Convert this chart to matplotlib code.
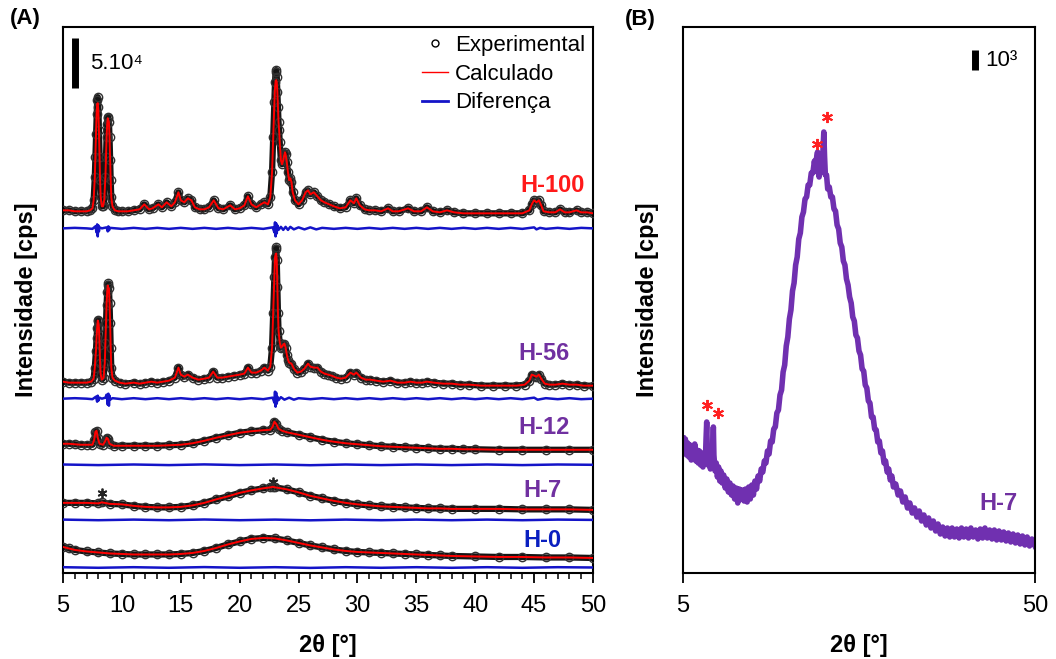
import numpy as np
import matplotlib
matplotlib.use('Agg')
import matplotlib.pyplot as plt
from matplotlib.lines import Line2D
from matplotlib.ticker import MultipleLocator

plt.rcParams['font.family'] = ['Liberation Sans', 'DejaVu Sans']

# ---------------- Panel A data (intensity in 10^3 cps) ----------------
h100_x = [5.0, 5.5, 6.0, 6.5, 7.0, 7.3, 7.5, 7.6, 7.7, 7.75, 7.8, 7.85, 7.9, 7.95, 8.0, 8.05, 8.1, 8.15, 8.2, 8.3,
          8.4, 8.5, 8.6, 8.65, 8.7, 8.75, 8.8, 8.85, 8.9, 8.95, 9.0, 9.05, 9.1, 9.2, 9.4, 9.7, 10.0, 10.5, 11.0, 11.5,
          11.9, 12.3, 12.6, 13.1, 13.4, 13.8, 14.2, 14.5, 14.8, 15.0, 15.3, 15.6, 15.9, 16.2, 16.6, 17.0, 17.4, 17.8,
          18.2, 18.6, 19.2, 19.6, 20.0, 20.4, 20.7, 21.0, 21.4, 21.8, 22.1, 22.4, 22.6, 22.75, 22.85, 22.95, 23.0,
          23.05, 23.1, 23.15, 23.2, 23.25, 23.3, 23.35, 23.4, 23.5, 23.6, 23.7, 23.8, 23.85, 23.9, 24.0, 24.1, 24.2,
          24.3, 24.4, 24.5, 24.7, 25.0, 25.3, 25.6, 25.8, 26.0, 26.3, 26.6, 26.9, 27.2, 27.6, 28.0, 28.5, 29.0, 29.4,
          29.7, 29.9, 30.2, 30.6, 31.0, 31.5, 32.0, 32.6, 33.0, 33.5, 34.3, 34.8, 35.4, 35.9, 36.4, 37.0, 37.6, 38.2,
          39.0, 40.0, 41.0, 42.0, 43.0, 44.0, 44.6, 44.8, 45.0, 45.2, 45.4, 45.6, 45.8, 46.3, 46.8, 47.2, 47.6, 48.0,
          48.6, 49.0, 49.5, 50.0]
h100_y = [12, 12, 11, 11, 11, 12, 14, 22, 45, 65, 88, 108, 122, 125, 115, 92, 65, 42, 25, 16,
          16, 22, 45, 65, 85, 98, 104, 105, 100, 85, 62, 42, 25, 16, 12, 11, 11, 11, 12, 13,
          18, 13, 14, 18, 15, 20, 16, 20, 30, 22, 20, 24, 22, 15, 13, 13, 15, 22,
          14, 13, 17, 13, 14, 17, 26, 18, 15, 18, 20, 18, 25, 50, 85, 120, 140,
          150, 152, 145, 130, 115, 100, 92, 80, 62, 58, 62, 68, 70, 68, 60, 50, 42,
          44, 40, 30, 22, 18, 22, 30, 32, 28, 30, 26, 22, 20, 18, 16, 14, 15, 22,
          19, 24, 17, 13, 12, 12, 11, 14, 11, 11, 14, 11, 11, 15, 11, 10, 12, 10,
          9, 9, 9, 9, 9, 9, 12, 18, 22, 20, 22, 17, 11, 10, 10, 13, 10, 10,
          12, 10, 10, 9]
h100_calc_fix = {7.9: 118, 7.95: 119, 8.0: 112, 8.85: 102, 23.0: 134, 23.05: 141, 23.1: 142, 23.15: 140}
h100_dx = [5, 6, 7, 7.5, 7.75, 7.85, 7.9, 7.95, 8.0, 8.05, 8.1, 8.3, 8.7, 8.8, 8.85, 8.9, 9.0, 9.5, 10, 11, 12,
           13, 14, 15, 16, 17, 18, 19, 20, 21, 22, 22.8, 22.95, 23.0, 23.05, 23.1, 23.15, 23.2, 23.3, 23.5, 23.7,
           23.9, 24.1, 24.3, 24.6, 25, 25.5, 26, 26.5, 27, 28, 29, 30, 31, 32, 33, 34, 35, 36, 37, 38, 39, 40, 41,
           42, 43, 44, 45, 45.2, 45.5, 46, 47, 48, 49, 50]
h100_dy = [0, 0.5, 0, -0.5, 2, -4, 4, -8, 3, -3, 1, 0, 1, -3, 2, -2, 0.5, 0, -0.5, 0.5, -0.5,
           0.5, -0.5, 0.5, -0.5, 0.5, -0.5, 0.5, -0.5, 0.5, -0.5, 1, -4, 6, -8, 5, -5, 3, -1.5, 1.5, -1.5,
           1.5, -1.5, 1.5, -1, 1, -1, 1, -1, 0.5, -0.5, 0.5, -0.5, 0.5, -0.5, 0.5, -0.5, 0.5, -0.5, 0.5, -0.5, 0.5,
           -0.5, 0.5, -0.5, 0.5, -0.5, 1, -1, 0.5, -0.5, 0.5, -0.5, 0.5, 0]

h56_x = [5.0, 5.5, 6.0, 6.5, 7.0, 7.4, 7.6, 7.7, 7.8, 7.85, 7.9, 7.95, 8.0, 8.05, 8.1, 8.15, 8.2, 8.3, 8.45, 8.55,
         8.6, 8.65, 8.7, 8.75, 8.8, 8.85, 8.9, 8.95, 9.0, 9.05, 9.1, 9.2, 9.4, 9.8, 10.3, 11.0, 11.5, 12.0, 12.5,
         13.0, 13.5, 14.0, 14.5, 14.8, 15.0, 15.3, 15.6, 16.0, 16.5, 17.0, 17.4, 17.75, 18.1, 18.5, 19.0, 19.5,
         20.0, 20.4, 20.7, 21.0, 21.4, 21.8, 22.1, 22.4, 22.6, 22.75, 22.85, 22.95, 23.0, 23.05, 23.1, 23.15, 23.2,
         23.25, 23.3, 23.4, 23.5, 23.6, 23.7, 23.8, 23.9, 24.0, 24.1, 24.2, 24.4, 24.6, 24.9, 25.2, 25.5, 25.8,
         26.0, 26.3, 26.6, 26.9, 27.2, 27.5, 27.8, 28.2, 28.6, 29.0, 29.4, 29.7, 29.9, 30.3, 30.7, 31.1, 31.6,
         32.2, 32.8, 33.4, 34.0, 34.5, 35.0, 35.5, 35.9, 36.5, 37.3, 38.0, 38.7, 39.5, 40.5, 41.5, 42.5, 43.5,
         44.2, 44.6, 44.8, 45.0, 45.2, 45.4, 45.6, 45.9, 46.3, 46.8, 47.4, 48.0, 48.6, 49.2, 50.0]
h56_y = [11, 10, 10, 10, 10, 11, 14, 25, 42, 55, 65, 72, 73, 65, 48, 30, 18, 13, 15, 30,
         50, 70, 88, 100, 107, 109, 104, 90, 70, 45, 25, 15, 12, 10, 9, 10, 9, 10, 11,
         10, 11, 12, 15, 25, 18, 16, 18, 15, 13, 14, 15, 21, 15, 15, 16, 17,
         18, 19, 25, 20, 20, 22, 25, 22, 26, 45, 80, 115, 135, 143, 145, 132, 105,
         80, 62, 50, 45, 46, 48, 49, 45, 38, 33, 30, 29, 24, 20, 21, 24, 29,
         26, 25, 25, 21, 19, 18, 17, 15, 14, 15, 20, 18, 20, 15, 13, 13, 12,
         11, 12, 10, 10, 11, 10, 10, 11, 10, 9, 9, 8, 8, 7, 7, 7, 7,
         8, 12, 18, 17, 16, 18, 14, 9, 8, 8, 9, 8, 8, 7, 7]
h56_calc_fix = {8.0: 70, 8.85: 104, 23.05: 138, 23.1: 139}
h56_dx = [5, 6, 7, 7.5, 7.8, 7.9, 7.95, 8.0, 8.1, 8.3, 8.6, 8.7, 8.8, 8.85, 8.9, 8.95, 9.0, 9.2, 9.6, 10, 11, 12,
          13, 14, 15, 16, 17, 18, 19, 20, 21, 22, 22.8, 22.95, 23.0, 23.05, 23.1, 23.15, 23.2, 23.3, 23.5, 23.8,
          24.2, 24.6, 25, 26, 27, 28, 29, 30, 31, 32, 33, 34, 35, 36, 37, 38, 39, 40, 41, 42, 43, 44, 45, 45.3,
          46, 47, 48, 49, 50]
h56_dy = [0, 0.5, 0, -0.5, 2, -3, 3, -2, 1, 0, 1, 4, -6, 5, -7, 3, -1, 0.5, 0, -0.5, 0.5, -0.5,
          0.5, -0.5, 0.5, -0.5, 0.5, -0.5, 0.5, -0.5, 0.5, -0.5, 1, -4, 7, -8, 6, -5, 2, -1.5, 1.5, -1,
          1, -1, 0.5, -0.5, 0.5, -0.5, 0.5, -0.5, 0.5, -0.5, 0.5, -0.5, 0.5, -0.5, 0.5, -0.5, 0.5, -0.5, 0.5,
          -0.5, 0.5, -0.5, 1, -1, 0.5, -0.5, 0.5, -0.5, 0]

h12_x = [5.0, 5.5, 6.0, 6.5, 7.0, 7.5, 7.65, 7.75, 7.85, 7.95, 8.1, 8.4, 8.6, 8.7, 8.8, 8.95, 9.3, 10, 11, 12, 13,
         14, 15, 16, 17, 18, 19, 20, 21, 22, 22.6, 22.8, 22.95, 23.1, 23.3, 23.6, 24, 25, 26, 27, 28, 29, 30, 31,
         32, 33, 34, 35, 36, 37, 38, 39, 40, 42, 44, 46, 48, 50]
h12_y = [14, 14, 13.5, 13, 13, 13, 18, 26, 27, 20, 14, 13, 17, 20, 19, 14, 12, 12, 12, 12, 12,
         12.5, 13, 14.5, 17, 20, 22.5, 25, 26.5, 27.5, 28, 31, 36, 34, 29, 27, 25.5, 23, 20.5, 18, 16, 14.5, 13.5,
         12.5, 11.5, 11, 10.5, 10, 9.5, 9, 9, 8.5, 8.5, 8, 8, 8, 8, 8]

h7_x = [5.0, 6, 7, 8, 8.3, 9, 10, 11, 12, 13, 14, 15, 16, 17, 18, 19, 20, 21, 22, 22.6, 22.8, 23, 24, 25, 26, 27,
        28, 29, 30, 31, 32, 33, 34, 35, 36, 37, 38, 40, 42, 44, 46, 48, 50]
h7_y = [15, 15, 15, 14.5, 15.5, 14, 13.5, 12, 11, 10.5, 10.5, 11, 12.5, 15, 18.5, 21.5, 25, 27.5, 29.5, 30.5, 31,
        30.5, 28.5, 25.5, 22, 19.5, 17, 15, 13.5, 12.5, 11.5, 11, 10.5, 10, 9.5, 9.5, 9, 9, 9, 8.5, 8.5, 8.5, 8]

h0_x = [5.0, 5.5, 6, 7, 8, 9, 10, 11, 12, 13, 14, 15, 16, 17, 18, 19, 20, 21, 22, 23, 24, 25, 26, 27, 28, 29, 30,
        31, 32, 33, 34, 35, 36, 37, 38, 40, 42, 44, 46, 48, 50]
h0_y = [16, 14.5, 13, 11.5, 10.5, 9.5, 9, 8.5, 8.5, 8.5, 8.5, 9, 10, 12, 15, 18.5, 21.5, 24, 25, 24.5, 22.5, 20,
        17.5, 15.5, 13.5, 12, 11, 10.5, 10, 9.5, 9, 8.5, 8, 7.5, 7, 6.5, 6, 6, 5.5, 5.5, 5]

flat_dx = [5, 8, 11, 14, 17, 20, 23, 26, 29, 32, 35, 38, 41, 44, 47, 50]
flat_dy = [0.3, -0.3, 0.3, -0.3, 0.4, -0.3, 0.3, -0.4, 0.3, -0.3, 0.3, -0.3, 0.3, -0.3, 0.3, 0]

samples = ['H-100', 'H-56', 'H-12', 'H-7', 'H-0']
pattern_offsets = [350, 180, 115, 55, 10]
diff_offsets = [344, 174, 108, 53, 5.5]
label_colors = ['#ff1a1a', '#7030a0', '#7030a0', '#7030a0', '#0a1fc0']
label_y = [387, 219, 145, 82, 32]
label_x = [49.3, 48.0, 48.0, 47.3, 47.3]
star_x_A = [8.3, 22.8]
star_y_A = [80, 91]

# ---------------- Panel B data (H-7, intensity in units of 50 cps) ----------------
b_x = [5.0, 5.15, 5.3, 5.45, 5.6, 5.75, 5.9, 6.05, 6.2, 6.35, 6.5, 6.65, 6.8, 6.95, 7.1, 7.25, 7.4, 7.55, 7.7,
       7.85, 7.95, 8.03, 8.1, 8.2, 8.35, 8.5, 8.65, 8.8, 8.88, 8.95, 9.1, 9.25, 9.4, 9.55, 9.7, 9.85, 10.0, 10.2,
       10.4, 10.6, 10.8, 11.0, 11.2, 11.4, 11.6, 11.8, 12.0, 12.2, 12.4, 12.6, 12.8, 13.0, 13.2, 13.4, 13.6,
       13.8, 14.0, 14.2, 14.4, 14.6, 14.8, 15.0, 15.2, 15.4, 15.6, 15.8, 16.0, 16.2, 16.4, 16.6, 16.8, 17.0,
       17.2, 17.4, 17.6, 17.8, 18.0, 18.2, 18.4, 18.6, 18.8, 19.0, 19.2, 19.4, 19.6, 19.8, 20.0, 20.2, 20.4,
       20.6, 20.8, 21.0, 21.2, 21.4, 21.6, 21.8, 21.95, 22.05, 22.2, 22.3, 22.4, 22.5, 22.6, 22.7, 22.8, 22.9,
       23.0, 23.1, 23.2, 23.35, 23.5, 23.7, 23.9, 24.1, 24.3, 24.5, 24.7, 24.9, 25.1, 25.3, 25.5, 25.7, 25.9,
       26.1, 26.3, 26.5, 26.7, 26.9, 27.1, 27.3, 27.5, 27.7, 27.9, 28.1, 28.3, 28.5, 28.7, 28.9, 29.1, 29.3,
       29.5, 29.7, 29.9, 30.1, 30.3, 30.5, 30.7, 30.9, 31.1, 31.3, 31.5, 31.7, 31.9, 32.2, 32.5, 32.8, 33.1,
       33.4, 33.7, 34.0, 34.3, 34.6, 34.9, 35.2, 35.5, 35.8, 36.1, 36.4, 36.7, 37.0, 37.3, 37.6, 37.9, 38.2,
       38.5, 38.8, 39.1, 39.4, 39.7, 40.0, 40.3, 40.6, 40.9, 41.2, 41.5, 41.8, 42.1, 42.4, 42.7, 43.0, 43.3,
       43.6, 43.9, 44.2, 44.5, 44.8, 45.1, 45.4, 45.7, 46.0, 46.3, 46.6, 46.9, 47.2, 47.5, 47.8, 48.1, 48.4,
       48.7, 49.0, 49.3, 49.6, 50.0]
b_y = [135, 123, 134, 118, 130, 116, 128, 113, 126, 115, 129, 112, 123, 110, 122, 108, 120, 106, 119,
       110, 135, 151, 128, 108, 118, 104, 114, 125, 146, 118, 102, 110, 96, 106, 92, 102, 90, 98,
       85, 94, 81, 90, 78, 87, 74, 85, 70, 84, 74, 83, 72, 84, 71, 86, 74,
       88, 78, 92, 84, 97, 92, 104, 101, 112, 110, 122, 119, 132, 131, 144, 146, 160,
       163, 178, 183, 201, 208, 227, 236, 254, 263, 282, 290, 308, 316, 334, 340, 356, 361,
       374, 376, 388, 388, 400, 400, 412, 402, 414, 421, 402, 396, 412, 400, 418, 406, 424,
       441, 416, 398, 398, 384, 386, 376, 376, 364, 362, 348, 344, 330, 326, 312, 308, 294,
       288, 276, 270, 256, 252, 238, 235, 222, 218, 204, 202, 188, 185, 172, 170, 156, 156,
       144, 143, 131, 132, 120, 122, 110, 112, 101, 104, 93, 97, 86, 89, 78, 82, 71,
       76, 65, 70, 60, 65, 56, 62, 52, 58, 48, 55, 45, 52, 42, 49, 39, 46,
       37, 45, 36, 45, 36, 44, 35, 45, 36, 44, 35, 45, 36, 43, 34, 44, 35,
       45, 35, 43, 34, 43, 33, 42, 33, 41, 32, 40, 31, 39, 30, 38, 29, 37,
       28, 36, 27, 34, 27]
b_unit = 50  # cps per unit (read via the 10^3 scale bar)
b_star_x = [8.03, 9.44, 22.1, 23.45]
b_star_y = [168, 160, 429, 456]

# ---------------- Figure ----------------
fig = plt.figure(figsize=(10.56, 6.59), dpi=100)
axA = fig.add_axes([63/1056, 86/659, 530/1056, 546/659])
axB = fig.add_axes([683/1056, 86/659, 352/1056, 546/659])

exp_sets = [(h100_x, h100_y), (h56_x, h56_y), (h12_x, h12_y), (h7_x, h7_y), (h0_x, h0_y)]
fixes = [h100_calc_fix, h56_calc_fix, {}, {}, {}]
diff_sets = [(h100_dx, h100_dy), (h56_dx, h56_dy), (flat_dx, flat_dy), (flat_dx, flat_dy), (flat_dx, flat_dy)]

for i, name in enumerate(samples):
    x, y = exp_sets[i]
    y = np.array(y, dtype=float)
    calc = np.array([fixes[i].get(xx, yy) for xx, yy in zip(x, y)], dtype=float)
    off = pattern_offsets[i]
    axA.plot(x, y + off, color='#151515', lw=4.5, zorder=2, solid_joinstyle='round', solid_capstyle='round')
    axA.plot(x, y + off, 'o', ms=6, mfc='none', mec='#303030', mew=1.0, zorder=3)
    axA.plot(x, calc + off, color='#ff0000', lw=1.4, zorder=4)
    dx, dy = diff_sets[i]
    axA.plot(dx, np.array(dy) + diff_offsets[i], color='#1414c8', lw=1.8, zorder=4)
    axA.text(label_x[i], label_y[i], name, color=label_colors[i], fontsize=17, fontweight='bold',
             ha='right', va='center')

axA.plot(star_x_A, star_y_A, linestyle='none', marker=(6, 2, 0), ms=7, mew=1.3, color='#222222')

axA.set_xlim(5, 50)
axA.set_ylim(0, 545)
axA.set_yticks([])
axA.xaxis.set_major_locator(MultipleLocator(5))
axA.xaxis.set_minor_locator(MultipleLocator(1))
axA.tick_params(axis='x', which='major', direction='out', length=7, width=1.3, labelsize=17, pad=9)
axA.tick_params(axis='x', which='minor', direction='out', length=4, width=1.1)
for s in axA.spines.values():
    s.set_linewidth(1.5)
axA.set_xlabel('2θ [°]', fontsize=17, fontweight='bold', labelpad=12)
axA.set_ylabel('Intensidade [cps]', fontsize=17, fontweight='bold', labelpad=18)

# scale bar 5.10^4
axA.plot([6.0, 6.0], [484, 534], color='black', lw=5, solid_capstyle='butt')
axA.text(7.3, 509, '5.10⁴', fontsize=16, ha='left', va='center')

handles = [Line2D([], [], marker='o', ls='none', ms=5, mfc='white', mec='black', mew=1.0),
           Line2D([], [], color='#ff0000', lw=1.0),
           Line2D([], [], color='#1414c8', lw=2.0)]
axA.legend(handles, ['Experimental', 'Calculado', 'Diferença'], loc='upper right', frameon=False,
           fontsize=16, handlelength=1.2, handletextpad=0.3, labelspacing=0.35,
           borderaxespad=0.15, borderpad=0.2)

axA.text(-0.10, 1.015, '(A)', transform=axA.transAxes, fontsize=16, fontweight='bold', ha='left', va='center')

# Panel B
axB.plot(b_x, np.array(b_y) * b_unit, color='#7030b0', lw=4.0, solid_joinstyle='round')
axB.plot(b_star_x, np.array(b_star_y) * b_unit, linestyle='none', marker=(6, 2, 0), ms=8, mew=1.4,
         color='#ff2020')
axB.set_xlim(5, 50)
axB.set_ylim(0, 546 * b_unit)
axB.set_xticks([5, 50])
axB.set_yticks([])
axB.tick_params(axis='x', which='major', direction='out', length=7, width=1.3, labelsize=17, pad=9)
for s in axB.spines.values():
    s.set_linewidth(1.5)
axB.set_xlabel('2θ [°]', fontsize=17, fontweight='bold', labelpad=12)
axB.set_ylabel('Intensidade [cps]', fontsize=17, fontweight='bold', labelpad=17)
axB.plot([42.3, 42.3], [503 * b_unit, 523 * b_unit], color='black', lw=5, solid_capstyle='butt')
axB.text(43.6, 513 * b_unit, '10³', fontsize=16, ha='left', va='center')
axB.text(47.7, 70 * b_unit, 'H-7', color='#7030a0', fontsize=17, fontweight='bold', ha='right', va='center')
axB.text(-0.165, 1.013, '(B)', transform=axB.transAxes, fontsize=16, fontweight='bold', ha='left', va='center')

fig.savefig('out.png', dpi=100)
